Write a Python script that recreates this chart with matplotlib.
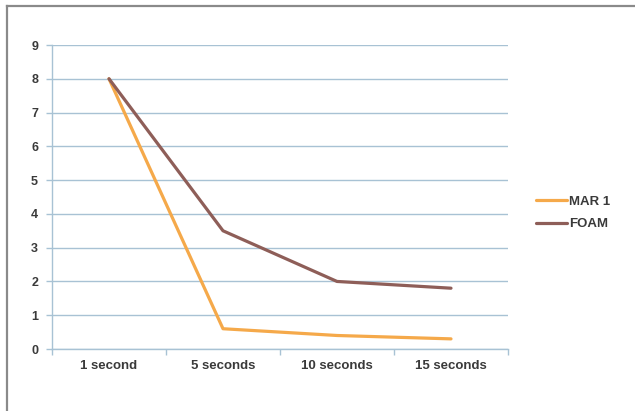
import matplotlib
matplotlib.use("Agg")
import matplotlib.pyplot as plt
from matplotlib.lines import Line2D

categories = ["1 second", "5 seconds", "10 seconds", "15 seconds"]
mar1 = [8, 0.6, 0.4, 0.3]
foam = [8, 3.5, 2.0, 1.8]
yticks = [0, 1, 2, 3, 4, 5, 6, 7, 8, 9]

plt.rcParams['font.family'] = ['Liberation Sans', 'DejaVu Sans']

fig = plt.figure(figsize=(6.35, 4.11), dpi=100)
W, H = 635, 411
ax = fig.add_axes([52 / W, 1 - 349 / H, 456 / W, 304 / H])

grid_c = "#a8c2d4"
txt_c = "#3a3a3a"
x = list(range(len(categories)))
ax.plot(x, mar1, color="#f5a94a", lw=2.3, label="MAR 1", solid_capstyle="round")
ax.plot(x, foam, color="#8e5e58", lw=2.3, label="FOAM", solid_capstyle="round")

ax.set_xlim(-0.5, len(categories) - 0.5)
ax.set_ylim(0, 9)
ax.set_yticks(yticks)
ax.set_yticklabels([str(v) for v in yticks], fontsize=9, fontweight="bold", color=txt_c)
ax.set_xticks(x)
ax.set_xticklabels(categories, fontsize=9.5, fontweight="bold", color=txt_c)
ax.tick_params(axis="x", length=0, pad=8)
ax.tick_params(axis="y", length=4, color=grid_c, width=1, pad=6)
ax.set_xticks([i - 0.5 for i in range(len(categories) + 1)], minor=True)
ax.tick_params(axis="x", which="minor", length=4, color=grid_c, width=1)
ax.yaxis.grid(True, color=grid_c, lw=1)
ax.set_axisbelow(True)
for s in ["top", "right"]:
    ax.spines[s].set_visible(False)
for s in ["left", "bottom"]:
    ax.spines[s].set_color(grid_c)
    ax.spines[s].set_linewidth(1)

leg = ax.legend(loc="center left", bbox_to_anchor=(529 / W, 1 - 213 / H),
                bbox_transform=fig.transFigure, frameon=False,
                prop={"size": 9.5, "weight": "bold"}, handlelength=2.4,
                handletextpad=0.15, labelspacing=0.75, borderpad=0)
for t in leg.get_texts():
    t.set_color(txt_c)

frame_c = "#8a8a8a"
fig.lines.append(Line2D([6.5 / W, 1.0], [1 - 6.5 / H, 1 - 6.5 / H], transform=fig.transFigure,
                        color=frame_c, lw=1.6))
fig.lines.append(Line2D([6.5 / W, 6.5 / W], [0.0, 1 - 6.5 / H], transform=fig.transFigure,
                        color=frame_c, lw=1.6))

fig.savefig("out.png", dpi=100)
